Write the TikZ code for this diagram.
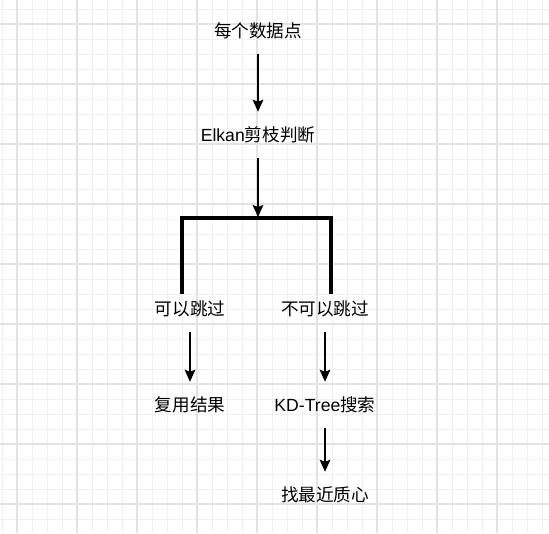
\documentclass[tikz,border=0pt]{standalone}
\usepackage{fontspec}
\setmainfont{Liberation Sans}
\newfontfamily\cjk{Noto Sans CJK SC}
\usetikzlibrary{arrows.meta}
\begin{document}
\begin{tikzpicture}[x=0.75pt,y=-0.75pt,
 lbl/.style={inner sep=0pt, minimum height=34.5pt, font=\fontsize{13.2}{15}\selectfont},
 arr/.style={line width=1.1pt, -{Stealth[length=9pt,width=8pt,inset=1.5pt]}},
 bar/.style={line width=2.3pt},
 minor/.style={draw=black!6, line width=0.75pt},
 major/.style={draw=black!11, line width=0.8pt}]
\useasboundingbox (0,0) rectangle (549,533);
\fill[white] (0,0) rectangle (549,533);
\foreach \x in {2,17,...,547} \draw[minor] (\x,0) -- (\x,533);
\foreach \y in {9,24,...,530} \draw[minor] (0,\y) -- (549,\y);
\foreach \x in {17,77,...,547} \draw[major] (\x,0) -- (\x,533);
\foreach \y in {24,84,...,530} \draw[major] (0,\y) -- (549,\y);

\node[lbl] (n1) at (258,31) {\cjk 每个数据点};
\node[lbl] (n2) at (258,135) {Elkan{\cjk 剪枝判断}};
\node[lbl] (n3) at (190,309) {\cjk 可以跳过};
\node[lbl] (n4) at (325,309) {\cjk 不可以跳过};
\node[lbl] (n5) at (190,405) {\cjk 复用结果};
\node[lbl] (n6) at (325,405) {KD-Tree{\cjk 搜索}};
\node[lbl] (n7) at (325,495) {\cjk 找最近质心};

\coordinate (bm) at (258,217);
\coordinate (bl) at (182,218);
\coordinate (br) at (331,218);
\coordinate (blb) at (182,294);
\coordinate (brb) at (331,294);

\draw[arr] (n1) -- (n2);
\draw[arr] (n2) -- (bm);
\draw[bar] (blb) -- (bl) -- (br) -- (brb);
\draw[arr] (n3) -- (n5);
\draw[arr] (n4) -- (n6);
\draw[arr] (n6) -- (n7);
\end{tikzpicture}
\end{document}
